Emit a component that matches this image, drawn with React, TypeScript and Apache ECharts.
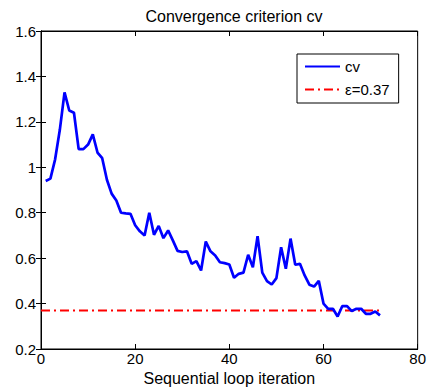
import React, { useEffect, useRef } from "react";
import * as echarts from "echarts";

const iterations: number[] = [
  1, 2, 3, 4, 5, 6, 7, 8, 9, 10, 11, 12, 13, 14, 15, 16, 17, 18, 19, 20, 21, 22, 23, 24,
  25, 26, 27, 28, 29, 30, 31, 32, 33, 34, 35, 36, 37, 38, 39, 40, 41, 42, 43, 44, 45, 46,
  47, 48, 49, 50, 51, 52, 53, 54, 55, 56, 57, 58, 59, 60, 61, 62, 63, 64, 65, 66, 67, 68,
  69, 70, 71, 72,
];

const cvValues: number[] = [
  0.94, 0.95, 1.035, 1.165, 1.33, 1.25, 1.24, 1.08, 1.08, 1.1, 1.145, 1.065, 1.04, 0.945,
  0.884, 0.854, 0.8, 0.797, 0.795, 0.745, 0.718, 0.7, 0.8, 0.703, 0.742, 0.688, 0.722,
  0.678, 0.632, 0.627, 0.63, 0.575, 0.587, 0.546, 0.673, 0.63, 0.612, 0.582, 0.578, 0.572,
  0.514, 0.531, 0.536, 0.615, 0.56, 0.697, 0.536, 0.499, 0.484, 0.512, 0.648, 0.553, 0.686,
  0.571, 0.575, 0.524, 0.483, 0.475, 0.5, 0.4, 0.377, 0.377, 0.343, 0.389, 0.389, 0.367,
  0.377, 0.377, 0.355, 0.355, 0.365, 0.348,
];

const epsilon = 0.37;
const epsilonRange: number[] = [0, 72];

const xTicks = { min: 0, max: 80, interval: 20 };
const yTicks = { min: 0.2, max: 1.6, interval: 0.2 };

const FONT = "Liberation Sans, Arial, Helvetica, sans-serif";

export default function App() {
  const ref = useRef<HTMLDivElement>(null);

  useEffect(() => {
    if (!ref.current) return;
    const chart = echarts.init(ref.current, undefined, { renderer: "svg" });

    const tickCommon = {
      axisLine: { show: true, lineStyle: { color: "#000", width: 1 } },
      axisTick: { show: true, inside: true, length: 5, lineStyle: { color: "#000" } },
      splitLine: { show: false },
    };

    chart.setOption({
      animation: false,
      backgroundColor: "#fff",
      title: {
        text: "Convergence criterion cv",
        left: 229,
        textAlign: "center",
        top: 3,
        textStyle: { fontFamily: FONT, fontSize: 16, fontWeight: "normal", color: "#000" },
      },
      grid: {
        left: 41,
        right: 11,
        top: 31,
        bottom: 43,
        show: true,
        borderColor: "#000",
        borderWidth: 1,
        backgroundColor: "#fff",
      },
      legend: {
        orient: "vertical",
        left: 297,
        top: 54,
        padding: [5, 9, 6, 7],
        itemGap: 8,
        itemWidth: 35,
        itemHeight: 14,
        backgroundColor: "#fff",
        borderColor: "#000",
        borderWidth: 1,
        itemStyle: { opacity: 0, color: "transparent", borderWidth: 0 },
        textStyle: { fontFamily: FONT, fontSize: 15, color: "#000", lineHeight: 14 },
        data: ["cv", "ε=0.37"],
      },
      xAxis: [
        {
          type: "value",
          min: xTicks.min,
          max: xTicks.max,
          interval: xTicks.interval,
          position: "bottom",
          name: "Sequential loop iteration",
          nameLocation: "middle",
          nameGap: 19,
          nameTextStyle: { fontFamily: FONT, fontSize: 16, color: "#000" },
          axisLabel: { fontFamily: FONT, fontSize: 15, color: "#000", margin: 2 },
          ...tickCommon,
        },
        {
          type: "value",
          min: xTicks.min,
          max: xTicks.max,
          interval: xTicks.interval,
          position: "top",
          axisLabel: { show: false },
          ...tickCommon,
        },
      ],
      yAxis: [
        {
          type: "value",
          min: yTicks.min,
          max: yTicks.max,
          interval: yTicks.interval,
          position: "left",
          axisLabel: {
            fontFamily: FONT,
            fontSize: 15,
            color: "#000",
            margin: 5,
            formatter: (v: number) => String(parseFloat(v.toFixed(1))),
          },
          ...tickCommon,
        },
        {
          type: "value",
          min: yTicks.min,
          max: yTicks.max,
          interval: yTicks.interval,
          position: "right",
          axisLabel: { show: false },
          ...tickCommon,
        },
      ],
      series: [
        {
          name: "cv",
          type: "line",
          data: iterations.map((x, i) => [x, cvValues[i]]),
          showSymbol: false,
          symbol: "none",
          lineStyle: { color: "#0000ff", width: 2.7 },
          itemStyle: { color: "#0000ff" },
          z: 3,
        },
        {
          name: "ε=0.37",
          type: "line",
          data: epsilonRange.map((x) => [x, epsilon]),
          showSymbol: false,
          symbol: "none",
          lineStyle: { color: "#ff0000", width: 2, type: [9, 4, 2, 4] },
          itemStyle: { color: "#ff0000" },
          z: 2,
        },
      ],
    });

    return () => chart.dispose();
  }, []);

  return <div ref={ref} style={{ width: 429, height: 392, position: "absolute", left: 0, top: 0 }} />;
}
